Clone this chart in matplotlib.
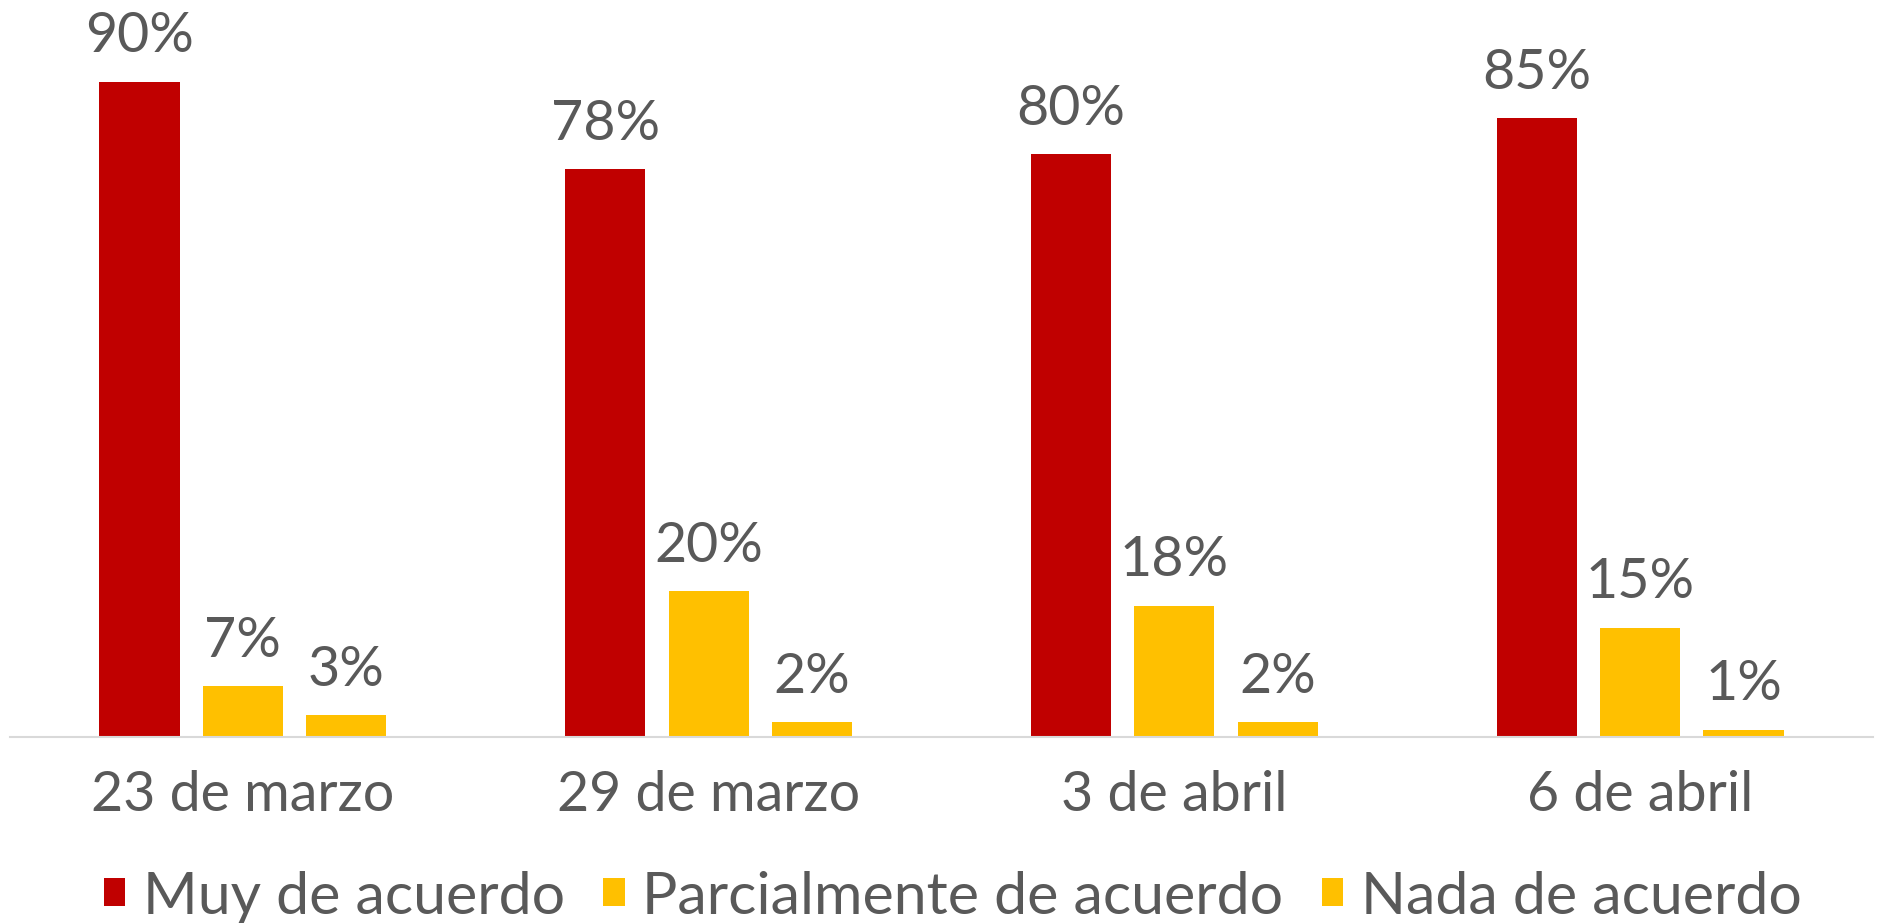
import numpy as np
import matplotlib.pyplot as plt

# Datos
fechas = ["23 de marzo", "29 de marzo", "3 de abril", "6 de abril"]
muy_de_acuerdo = [90, 78, 80, 85]
parcialmente = [7, 20, 18, 15]
nada = [3, 2, 2, 1]
series = ["Muy de acuerdo", "Parcialmente de acuerdo", "Nada de acuerdo"]

plt.rcParams["font.family"] = ["Lato", "DejaVu Sans"]
gris = "#595959"

fig = plt.figure(figsize=(18.83, 9.23), dpi=100)
ax = fig.add_axes([10 / 1883, 1 - 737 / 923, 1863 / 1883, 737 / 923])

x = np.arange(len(fechas))
paso = 0.222
ancho = 0.172
colores = ["#C00000", "#FFC000", "#FFC000"]

for i, (valores, nombre) in enumerate(zip([muy_de_acuerdo, parcialmente, nada], series)):
    barras = ax.bar(x + (i - 1) * paso, valores, width=ancho, color=colores[i], label=nombre)
    ax.bar_label(barras, labels=[f"{v}%" for v in valores], padding=14,
                 fontsize=40, color=gris)

ax.set_xlim(-0.5, 3.5)
ax.set_ylim(0, 101.2)
ax.set_xticks(x)
ax.set_xticklabels(fechas, fontsize=40, color=gris)
ax.tick_params(axis="x", length=0, pad=24)
ax.set_yticks([])
for lado in ["top", "right", "left"]:
    ax.spines[lado].set_visible(False)
ax.spines["bottom"].set_color("#D9D9D9")
ax.spines["bottom"].set_linewidth(1.5)

fig.legend(loc="center", bbox_to_anchor=(0.506, 1 - 897 / 923), ncol=3, frameon=False,
           fontsize=42.5, labelcolor=gris, handlelength=0.36, handleheight=0.36,
           handletextpad=0.3, columnspacing=0.65)

plt.savefig("out.png", dpi=100)
